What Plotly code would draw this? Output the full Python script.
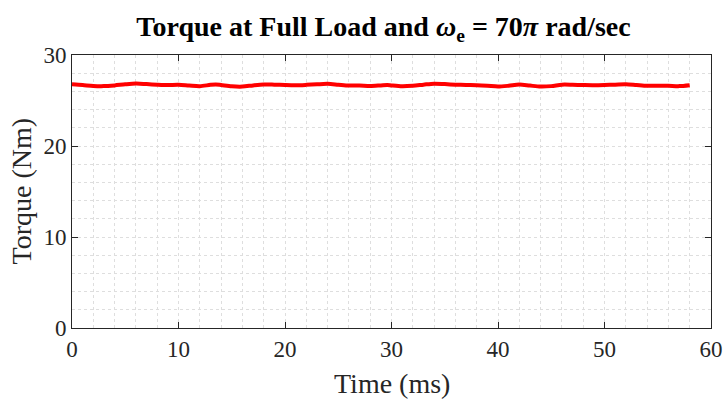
import plotly.graph_objects as go

time_ms = [0, 1, 2, 3, 4, 5, 6, 7, 8, 9, 10, 11, 12, 13, 13.5, 14, 15, 16, 17, 18,
           19, 20, 21, 22, 23, 24, 25, 26, 27, 28, 29, 29.6, 30, 31, 32, 33, 34, 35,
           36, 37, 38, 39, 40, 41, 42, 43, 44, 45, 46, 47, 48, 49, 50, 51, 52, 53,
           54, 55, 56, 57, 58]
torque_nm = [26.78, 26.70, 26.60, 26.58, 26.66, 26.78, 26.86, 26.80, 26.74, 26.70,
             26.72, 26.64, 26.57, 26.72, 26.76, 26.70, 26.56, 26.53, 26.66, 26.76,
             26.74, 26.70, 26.68, 26.72, 26.78, 26.83, 26.74, 26.65, 26.64, 26.58,
             26.66, 26.71, 26.66, 26.57, 26.62, 26.74, 26.85, 26.80, 26.74, 26.70,
             26.68, 26.62, 26.53, 26.62, 26.76, 26.64, 26.53, 26.58, 26.74, 26.73,
             26.70, 26.68, 26.70, 26.74, 26.79, 26.70, 26.61, 26.63, 26.62, 26.58,
             26.68]

x_ticks = [0, 10, 20, 30, 40, 50, 60]
y_ticks = [0, 10, 20, 30]

FONT = "Liberation Serif"
grid_col = "#dedede"
axis_col = "#262626"

fig = go.Figure()
fig.add_trace(go.Scatter(
    x=time_ms, y=torque_nm, mode="lines",
    line=dict(color="#ff0000", width=4, shape="spline", smoothing=0.8),
    showlegend=False, hoverinfo="skip"))

axis_common = dict(
    showline=True, linecolor=axis_col, linewidth=1, mirror="ticks",
    ticks="inside", ticklen=6, tickcolor=axis_col, tickwidth=1,
    showgrid=True, gridcolor=grid_col, griddash="dot", gridwidth=1,
    zeroline=False, automargin=False,
    tickfont=dict(family=FONT, size=23, color=axis_col),
)

fig.update_xaxes(
    range=[0, 60], tickvals=x_ticks, ticktext=[str(v) for v in x_ticks],
    minor=dict(dtick=2, tick0=0, showgrid=True, gridcolor=grid_col,
               griddash="dot", gridwidth=1, ticks=""),
    **axis_common)
fig.update_yaxes(
    range=[0, 30], tickvals=y_ticks, ticktext=[str(v) for v in y_ticks],
    minor=dict(dtick=2, tick0=0, showgrid=True, gridcolor=grid_col,
               griddash="dot", gridwidth=1, ticks=""),
    **axis_common)

fig.add_annotation(text="Time (ms)", xref="paper", yref="paper", x=0.5, y=0,
                   xanchor="center", yanchor="middle", yshift=-55, showarrow=False,
                   font=dict(family=FONT, size=28, color=axis_col))
fig.add_annotation(text="Torque (Nm)", xref="paper", yref="paper", x=0, y=0.5,
                   xanchor="center", yanchor="middle", xshift=-51, textangle=-90,
                   showarrow=False, font=dict(family=FONT, size=28, color=axis_col))

fig.update_layout(
    width=725, height=403,
    margin=dict(l=72, r=14, t=55, b=75),
    paper_bgcolor="white", plot_bgcolor="white",
    title=dict(
        text="<b>Torque at Full Load and <i>ω</i><sub>e</sub> = 70<i>π</i> rad/sec</b>",
        font=dict(family=FONT, size=28, color="#000000"),
        x=0.529, xanchor="center", y=0.935, yanchor="middle"),
)

fig.write_html("out.html")
